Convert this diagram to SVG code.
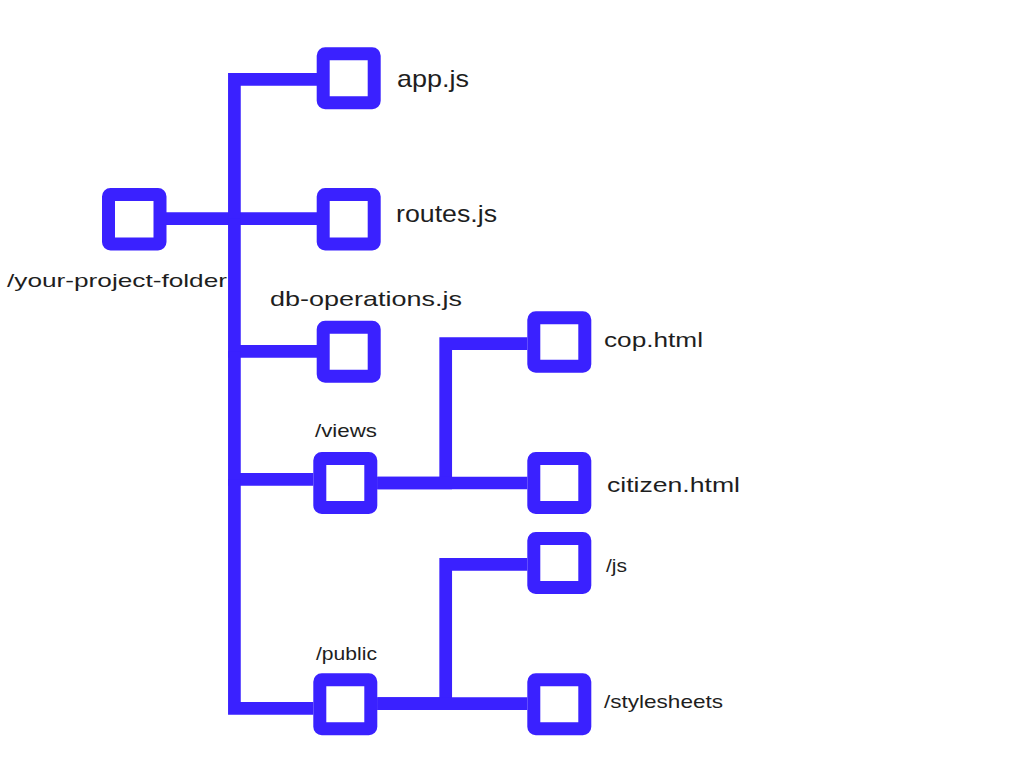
<svg xmlns="http://www.w3.org/2000/svg" width="1024" height="768" viewBox="0 0 1024 768">
<style>
.box{fill:#ffffff;stroke:#3a21ff;stroke-width:13;stroke-linejoin:round}
.conn{fill:none;stroke:#3a21ff;stroke-width:12.7;stroke-linejoin:miter;stroke-linecap:butt}
.lbl{font-family:"Liberation Sans","Open Sans",sans-serif;fill:#1e1e1e}
.big{font-size:24px}
.mid{font-size:21px}
.sm{font-size:19px}
</style>
<rect width="1024" height="768" fill="#ffffff"/>
<g id="connectors">
<path class="conn" d="M166 218.7 H317"/>
<path class="conn" d="M234.4 218.7 V79.3 H317"/>
<path class="conn" d="M234.4 218.7 V351.3 H317"/>
<path class="conn" d="M234.4 351.3 V479.3 H313.3"/>
<path class="conn" d="M234.4 479.3 V708.3 H313.3"/>
<path class="conn" d="M377.3 483 H445.7 V343.7 H527.3"/>
<path class="conn" d="M377.3 483 H527.3"/>
<path class="conn" d="M377.3 703.7 H445.7 V564.3 H527.3"/>
<path class="conn" d="M377.3 703.7 H527.3"/>
</g>
<g id="root">
<rect class="box" x="108.5" y="194.5" width="51.5" height="49.5" rx="2"/>
<text class="lbl sm" x="7" y="287" textLength="220" lengthAdjust="spacingAndGlyphs">/your-project-folder</text>
</g>
<g id="app-js">
<rect class="box" x="323.2" y="53.8" width="51" height="49" rx="2"/>
<text class="lbl big" x="397" y="87" textLength="72" lengthAdjust="spacingAndGlyphs">app.js</text>
</g>
<g id="routes-js">
<rect class="box" x="323.2" y="194.5" width="51" height="49.5" rx="2"/>
<text class="lbl big" x="396" y="222" textLength="101" lengthAdjust="spacingAndGlyphs">routes.js</text>
</g>
<g id="db-operations-js">
<rect class="box" x="323.2" y="327.2" width="51" height="49" rx="2"/>
<text class="lbl mid" x="270" y="306" textLength="192" lengthAdjust="spacingAndGlyphs">db-operations.js</text>
</g>
<g id="views">
<rect class="box" x="319.8" y="458.5" width="51" height="49" rx="2"/>
<text class="lbl sm" x="315" y="437" textLength="62" lengthAdjust="spacingAndGlyphs">/views</text>
</g>
<g id="public">
<rect class="box" x="319.8" y="679.8" width="51" height="49" rx="2"/>
<text class="lbl sm" x="316" y="660" textLength="61" lengthAdjust="spacingAndGlyphs">/public</text>
</g>
<g id="cop-html">
<rect class="box" x="533.8" y="317.8" width="51" height="48.4" rx="2"/>
<text class="lbl mid" x="604" y="347" textLength="99" lengthAdjust="spacingAndGlyphs">cop.html</text>
</g>
<g id="citizen-html">
<rect class="box" x="533.8" y="458.5" width="51" height="49" rx="2"/>
<text class="lbl mid" x="607" y="492" textLength="133" lengthAdjust="spacingAndGlyphs">citizen.html</text>
</g>
<g id="js">
<rect class="box" x="533.8" y="538.5" width="51" height="49" rx="2"/>
<text class="lbl sm" x="606" y="572" textLength="21" lengthAdjust="spacingAndGlyphs">/js</text>
</g>
<g id="stylesheets">
<rect class="box" x="533.8" y="679.8" width="51" height="49" rx="2"/>
<text class="lbl sm" x="604" y="708" textLength="119" lengthAdjust="spacingAndGlyphs">/stylesheets</text>
</g>
</svg>
